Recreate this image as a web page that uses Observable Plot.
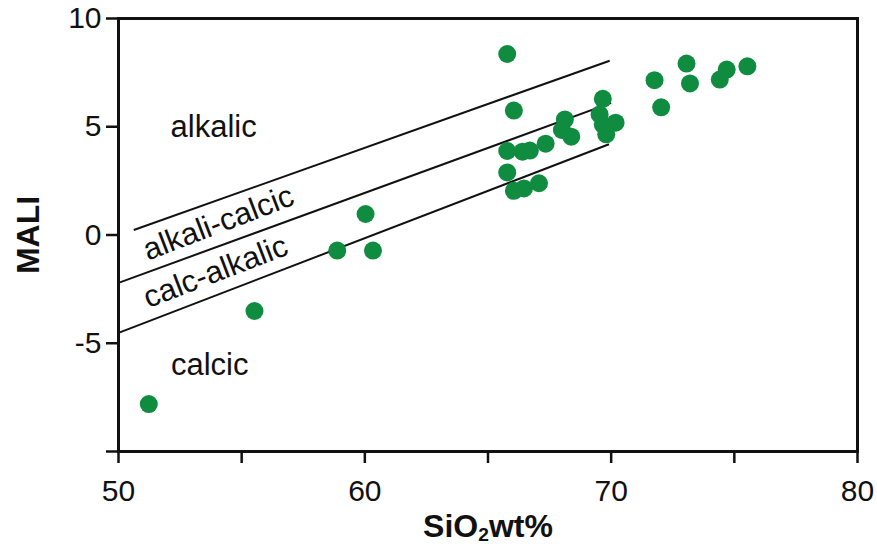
<!DOCTYPE html>
<html><head><meta charset="utf-8">
<script src="https://cdn.jsdelivr.net/npm/d3@7"></script>
<script src="https://cdn.jsdelivr.net/npm/@observablehq/plot@0.6"></script>
<style>html,body{margin:0;padding:0;background:#fff} svg{display:block}</style>
</head><body><div id="chart"></div>
<script>
// Sample data (SiO2 wt% vs MALI)
const sio2 = [65.78, 66.05, 65.78, 66.40, 66.70, 67.34, 68.12, 68.00, 68.38, 69.66, 69.53, 69.66, 70.18, 69.80,
              65.78, 66.05, 66.46, 67.07, 71.76, 72.03, 73.06, 73.20, 74.41, 74.69, 75.53, 60.03, 58.88, 60.33, 55.52, 51.23];
const mali = [8.36, 5.75, 3.88, 3.85, 3.90, 4.22, 5.34, 4.85, 4.54, 6.29, 5.57, 5.10, 5.19, 4.65,
              2.89, 2.04, 2.15, 2.39, 7.15, 5.90, 7.92, 7.00, 7.18, 7.64, 7.79, 0.97, -0.72, -0.72, -3.51, -7.81];

// Field boundary lines
const boundaryName = ["alkalic/alkali-calcic", "alkali-calcic/calc-alkalic", "calc-alkalic/calcic"];
const boundaryX1 = [50.62, 50.0, 50.0];
const boundaryY1 = [0.23, -2.21, -4.52];
const boundaryX2 = [69.94, 70.0, 69.91];
const boundaryY2 = [8.05, 6.10, 4.19];

// Field labels
const fieldName = ["alkalic", "alkali-calcic", "calc-alkalic", "calcic"];
const fieldX = [53.86, 54.06, 53.94, 53.70];
const fieldY = [5.0, 0.55, -1.70, -6.03];
const fieldAngle = [0, -21, -21, 0];

// Axes
const xTicks = [50, 55, 60, 65, 70, 75, 80];
const xTickLabels = ["50", "", "60", "", "70", "", "80"];
const yTicks = [-10, -5, 0, 5, 10];
const yTickLabels = ["", "-5", "0", "5", "10"];
const xDomain = [50, 80];
const yDomain = [-10, 10];

const points = sio2.map((x, i) => ({x, y: mali[i]}));
const boundaries = boundaryName.map((n, i) => ({n, x1: boundaryX1[i], y1: boundaryY1[i], x2: boundaryX2[i], y2: boundaryY2[i]}));
const fields = fieldName.map((n, i) => ({n, x: fieldX[i], y: fieldY[i], a: fieldAngle[i]}));

const FONT = "'Liberation Sans', Arial, Helvetica, sans-serif";

const chart = Plot.plot({
  width: 877,
  height: 546,
  marginTop: 18,
  marginRight: 20,
  marginBottom: 95,
  marginLeft: 118,
  style: {fontFamily: FONT, background: "#fff", color: "#111"},
  x: {domain: xDomain},
  y: {domain: yDomain},
  marks: [
    Plot.axisX({ticks: xTicks, tickSize: 12, tickPadding: 16, strokeWidth: 2.5, fontSize: 30,
                tickFormat: d => xTickLabels[xTicks.indexOf(d)], label: null}),
    Plot.axisY({ticks: yTicks, tickSize: 12, tickPadding: 5, strokeWidth: 2.5, fontSize: 30,
                tickFormat: d => yTickLabels[yTicks.indexOf(d)], label: null}),
    Plot.link(boundaries, {x1: "x1", y1: "y1", x2: "x2", y2: "y2", stroke: "#111", strokeWidth: 2}),
    Plot.text(fields, {x: "x", y: "y", text: "n", rotate: "a", fontSize: 31, fill: "#111"}),
    Plot.dot(points, {x: "x", y: "y", r: 9, fill: "#108c41", stroke: "none"}),
    Plot.frame({stroke: "#111", strokeWidth: 3}),
    Plot.text(["MALI"], {frameAnchor: "left", dx: -89.5, rotate: -90, textAnchor: "middle", lineAnchor: "middle",
                         fontSize: 32, fontWeight: "bold", fill: "#111"}),
    Plot.text(["SiO2wt%"], {frameAnchor: "bottom", dy: 85, textAnchor: "middle", lineAnchor: "bottom",
                            fontSize: 32, fontWeight: "bold", fill: "#111"})
  ]
});
document.getElementById("chart").appendChild(chart);

// Subscript the "2" in SiO2
d3.select(chart).selectAll("text").each(function() {
  const t = d3.select(this);
  if (t.text() === "SiO2wt%") {
    t.text(null);
    t.append("tspan").text("SiO");
    t.append("tspan").attr("dy", "0.22em").attr("font-size", "0.6em").text("2");
    t.append("tspan").attr("dy", "-0.13em").text("wt%");
  }
});
</script>
</body></html>
